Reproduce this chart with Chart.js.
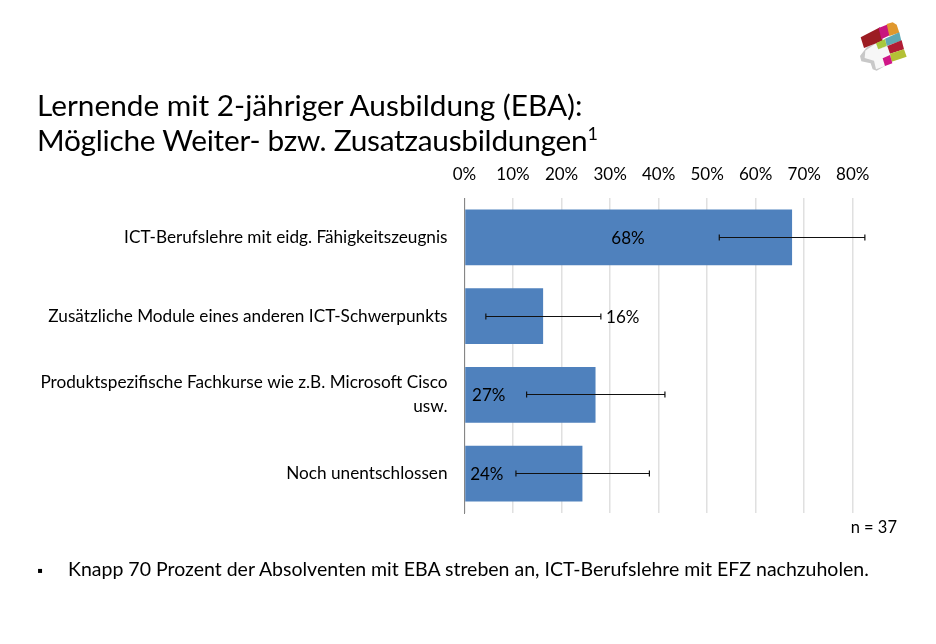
<!DOCTYPE html>
<html lang="de">
<head>
<meta charset="utf-8">
<title>Lernende mit 2-jähriger Ausbildung (EBA)</title>
<script src="https://cdn.jsdelivr.net/npm/chart.js@4"></script>
<style>
  html, body { margin: 0; padding: 0; background: #fff; }
  body { position: relative; width: 936px; height: 644px; overflow: hidden; font-family: Lato, sans-serif; color: #000; }
  #chart { position: absolute; left: 0; top: 0; }
  .title { position: absolute; left: 37px; top: 87px; font-size: 29.8px; line-height: 35px; white-space: nowrap; }
  .title span { letter-spacing: -0.25px; }
  .title sup { font-size: 18px; line-height: 0; }
  .note { position: absolute; right: 39px; top: 516px; font-size: 16.5px; line-height: 22px; }
  .bullet { position: absolute; left: 37px; top: 558px; font-size: 15px; line-height: 24px; }
  .point { position: absolute; left: 68px; top: 557px; font-size: 19.5px; line-height: 24px; white-space: nowrap; }
  #logo { position: absolute; left: 840px; top: 10px; }
</style>
</head>
<body>
<canvas id="chart" width="936" height="644"></canvas>
<div class="title">Lernende mit 2-jähriger Ausbildung (EBA):<br><span>Mögliche Weiter- bzw. Zusatzausbildungen</span><sup>1</sup></div>
<div class="note">n = 37</div>
<div class="bullet">▪</div>
<div class="point">Knapp 70 Prozent der Absolventen mit EBA streben an, ICT-Berufslehre mit EFZ nachzuholen.</div>
<svg id="logo" width="80" height="70" viewBox="0 0 240 210">
  <filter id="soft"><feGaussianBlur stdDeviation="1.5"/></filter>
  <g filter="url(#soft)">
    <polygon points="60,138 80,112 108,100 115,118 145,108 156,156 128,145 135,168 110,182 98,178 92,160 64,154" fill="#c8c8c8"/>
    <polygon points="76,122 108,100 115,118 145,108 156,156 128,145 135,168 108,178 102,152 74,144" fill="#f7f7f7"/>
    <polygon points="62,82 120,52 128,92 72,114" fill="#9c1c24"/>
    <polygon points="116,54 146,42 152,74 124,88" fill="#c8127e"/>
    <polygon points="140,42 158,37 170,44 178,68 148,78" fill="#e0982e"/>
    <polygon points="135,86 178,67 184,92 140,108" fill="#5fa8b4"/>
    <polygon points="108,100 135,87 140,108 115,118" fill="#a8c83c"/>
    <polygon points="142,108 185,91 192,118 150,131" fill="#b01e34"/>
    <polygon points="150,131 192,118 200,140 155,155" fill="#b4c034"/>
    <polygon points="128,145 150,135 157,160 135,168" fill="#d01488"/>
  </g>
</svg>
<script>
const categories = [
  'ICT-Berufslehre mit eidg. Fähigkeitszeugnis',
  'Zusätzliche Module eines anderen ICT-Schwerpunkts',
  ['Produktspezifische Fachkurse wie z.B. Microsoft Cisco', 'usw.'],
  'Noch unentschlossen'
];
const shares = [67.5, 16.2, 27.0, 24.3];
const errorLow = [52.5, 4.4, 12.8, 10.6];
const errorHigh = [82.5, 28.1, 41.3, 38.1];
const shareLabels = ['68%', '16%', '27%', '24%'];
const labelAt = [33.7, 32.6, 5.0, 4.6]; // label centre, in axis percent

const FONT = 'Lato, sans-serif';

// Confidence whiskers and value labels, placed through the chart's scales
const annotations = {
  id: 'annotations',
  afterDatasetsDraw(chart) {
    const { ctx, scales: { x, y } } = chart;
    ctx.save();
    ctx.strokeStyle = '#111';
    ctx.lineWidth = 1.2;
    categories.forEach(function(_, i) {
      const py = Math.floor(y.getPixelForValue(i)) + 0.5;
      const x0 = x.getPixelForValue(errorLow[i]);
      const x1 = x.getPixelForValue(errorHigh[i]);
      ctx.beginPath();
      ctx.moveTo(x0, py); ctx.lineTo(x1, py);
      ctx.moveTo(x0, py - 3); ctx.lineTo(x0, py + 3);
      ctx.moveTo(x1, py - 3); ctx.lineTo(x1, py + 3);
      ctx.stroke();
    });
    ctx.fillStyle = '#000';
    ctx.font = '17px ' + FONT;
    ctx.textAlign = 'center';
    ctx.textBaseline = 'middle';
    shareLabels.forEach(function(label, i) {
      ctx.fillText(label, x.getPixelForValue(labelAt[i]), y.getPixelForValue(i) + 1);
    });
    ctx.restore();
  }
};

new Chart(document.getElementById('chart'), {
  type: 'bar',
  data: {
    labels: categories,
    datasets: [{
      data: shares,
      backgroundColor: '#4f81bd',
      barPercentage: 0.71,
      categoryPercentage: 1
    }]
  },
  plugins: [annotations],
  options: {
    indexAxis: 'y',
    responsive: false,
    animation: false,
    layout: { padding: { top: 165, right: 59, bottom: 131, left: 0 } },
    plugins: { legend: { display: false }, tooltip: { enabled: false } },
    scales: {
      x: {
        position: 'top',
        min: 0,
        max: 85,
        afterFit(scale) { scale.height = 33; },
        ticks: {
          stepSize: 10,
          includeBounds: false,
          maxRotation: 0,
          padding: 13,
          color: '#000',
          font: { family: FONT, size: 17 },
          callback: function(v) { return v + '%'; }
        },
        grid: { color: '#e0e0e0', lineWidth: 1.5, drawTicks: false },
        border: { display: false }
      },
      y: {
        afterFit(scale) { scale.width = 464.5; },
        ticks: {
          padding: 17,
          color: '#000',
          font: { family: FONT, size: 17.2, lineHeight: 1.4 }
        },
        grid: { display: false, drawTicks: false },
        border: { color: '#868686', width: 1 }
      }
    }
  }
});
</script>
</body>
</html>
